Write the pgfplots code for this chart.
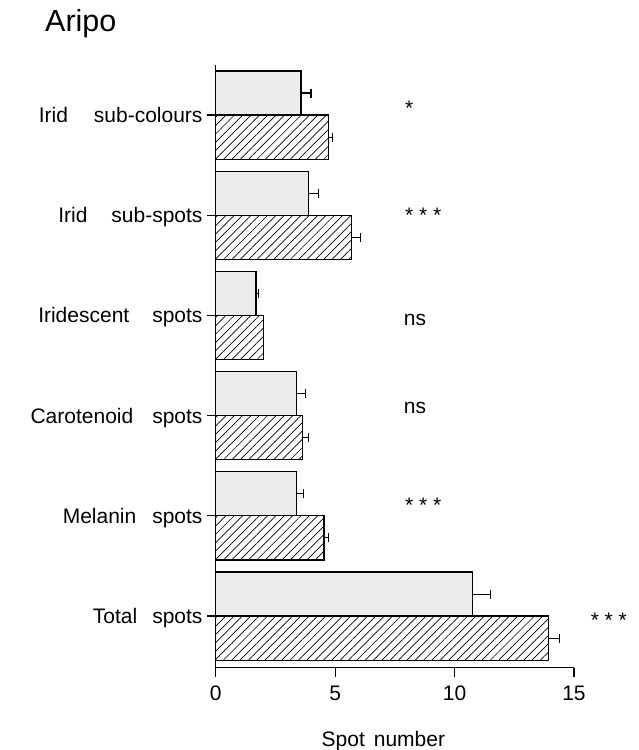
\documentclass[border=0pt]{standalone}
\usepackage{fontspec}
\setmainfont{Liberation Sans}
\usepackage{pgfplots}
\pgfplotsset{compat=1.18}
\usetikzlibrary{patterns.meta}

\begin{document}
\fontsize{21}{25}\selectfont
\begin{tikzpicture}
\begin{axis}[
  at={(0,0)}, anchor=south west,
  scale only axis, width=358.3pt, height=602.7pt,
  xmin=0, xmax=15, ymin=0.485, ymax=6.5,
  axis x line*=bottom, axis y line*=left,
  axis line style={line width=1.2pt, -},
  xtick={0,5,10,15}, ytick={1,2,3,4,5,6},
  yticklabels={Total\hspace{15pt}spots, Melanin\hspace{16pt}spots, Carotenoid\hspace{19pt}spots, Iridescent\hspace{23pt}spots, Irid\hspace{24pt}sub-spots, Irid\hspace{26pt}sub-colours},
  tick align=outside, major tick length=9pt,
  tick style={line width=1.2pt, black},
  xbar, bar width=0.44,
  /pgf/number format/assume math mode=true,
  ticklabel style={font=\fontsize{21}{25}\selectfont},
  yticklabel style={anchor=base east, yshift=-7.5pt, xshift=3pt},
  xticklabel style={anchor=base, yshift=-24pt},
  clip=false,
  xlabel={Spot\hspace{9pt}number},
  xlabel style={at={(rel axis cs:0.468,0)}, anchor=base, yshift=-78.3pt, font=\fontsize{21}{25}\selectfont},
]
% stippled (upper) bars
\addplot[draw=black, line width=1.2pt, fill=black!8, bar shift=0.22,
  error bars/.cd, x dir=plus, x explicit, error mark=|,
  error bar style={line width=1.1pt, black},
  error mark options={line width=1.1pt, mark size=4.5pt, black}]
  coordinates {
    (10.75,1) +- (0.77,0)
    (3.39,2) +- (0.30,0)
    (3.39,3) +- (0.37,0)
    (1.69,4) +- (0.12,0)
    (3.88,5) +- (0.43,0)
    (3.57,6) +- (0.42,0)
  };
% hatched (lower) bars
\addplot[draw=black, line width=1.2pt, pattern={Lines[angle=45,distance=5.9pt,line width=0.7pt]}, bar shift=-0.22,
  error bars/.cd, x dir=plus, x explicit, error mark=|,
  error bar style={line width=1.1pt, black},
  error mark options={line width=1.1pt, mark size=4.5pt, black}]
  coordinates {
    (13.92,1) +- (0.48,0)
    (4.53,2) +- (0.18,0)
    (3.62,3) +- (0.26,0)
    (5.70,5) +- (0.38,0)
    (4.73,6) +- (0.17,0)
  };
\addplot[draw=black, line width=1.2pt, pattern={Lines[angle=45,distance=5.9pt,line width=0.7pt]}, bar shift=-0.22]
  coordinates {(1.99,4)};
\node[anchor=base west] at (axis cs:7.63,6.0) {*};
\node[anchor=base west] at (axis cs:7.63,4.93) {*\ *\ *};
\node[anchor=base west] at (axis cs:7.58,3.90) {ns};
\node[anchor=base west] at (axis cs:7.58,3.02) {ns};
\node[anchor=base west] at (axis cs:7.63,2.03) {*\ *\ *};
\node[anchor=base west] at (axis cs:15.40,0.89) {*\ *\ *};
\end{axis}
\node[anchor=base west, inner sep=0pt, font=\fontsize{30.5}{36}\selectfont] at (-170.7pt,636pt) {Aripo};
\pgfresetboundingbox
\path[use as bounding box] (-215.7pt,-82.3pt) rectangle (422.3pt,667.7pt);
\end{tikzpicture}
\end{document}
